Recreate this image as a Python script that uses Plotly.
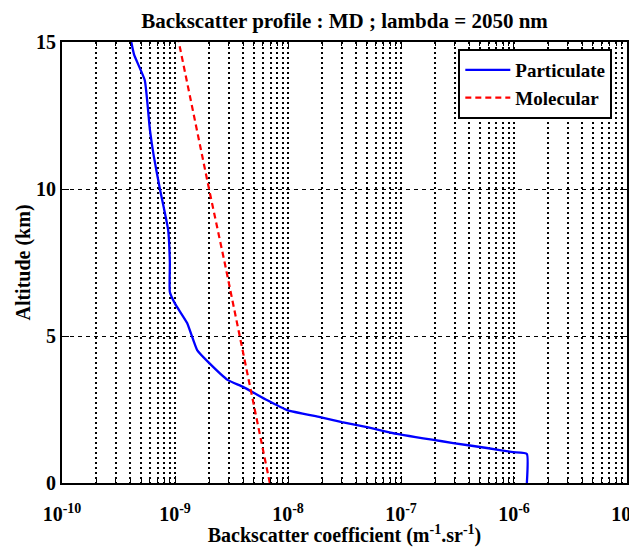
import plotly.graph_objects as go

# Particulate backscatter profile (altitude in km, coefficient in m^-1.sr^-1)
alt_part = [15.0, 14.56, 13.7, 12.0, 11.1, 10.0, 8.6, 7.5, 6.5, 6.1, 5.44, 4.52, 4.12,
            3.5, 3.27, 2.82, 2.48, 2.24, 2.07, 1.9, 1.67, 1.36, 1.19, 1.05, 0.99, 0.0]
beta_part = [4.1e-10, 4.35e-10, 5.4e-10, 6.0e-10, 6.5e-10, 7.35e-10, 8.7e-10, 9.0e-10,
             9.0e-10, 1.0e-9, 1.28e-9, 1.57e-9, 1.96e-9, 2.94e-9, 4.0e-9, 6.5e-9, 9.8e-9,
             1.92e-8, 3.0e-8, 5.0e-8, 9.2e-8, 2.9e-7, 5.75e-7, 9.8e-7, 1.3e-6, 1.3e-6]

# Molecular backscatter profile
alt_mol = [0.0, 2.5, 5.0, 7.5, 10.0, 12.5, 15.0]
beta_mol = [6.9e-9, 5.1e-9, 3.75e-9, 2.75e-9, 2.0e-9, 1.47e-9, 1.08e-9]

xtick_vals = [1e-10, 1e-9, 1e-8, 1e-7, 1e-6, 1e-5]
xtick_text = ["10<sup>-10</sup>", "10<sup>-9</sup>", "10<sup>-8</sup>",
              "10<sup>-7</sup>", "10<sup>-6</sup>", "10<sup>-5</sup>"]
ytick_vals = [0, 5, 10, 15]

fig = go.Figure()
fig.add_trace(go.Scatter(x=beta_part, y=alt_part, mode="lines", name="Particulate",
                         line=dict(color="#0000ff", width=2.3, shape="spline", smoothing=0.4)))
fig.add_trace(go.Scatter(x=beta_mol, y=alt_mol, mode="lines", name="Molecular",
                         line=dict(color="#ff0000", width=2.2, dash="6px,4px")))

# the page body has an 8px default margin: paper is sized to fit the 637x547 window
fig.update_layout(
    width=629, height=539,
    margin=dict(l=54, r=10, t=34, b=64, autoexpand=False),
    plot_bgcolor="white", paper_bgcolor="white",
    font=dict(family="Liberation Serif", color="black", size=18),
    title=dict(text="<b>Backscatter profile : MD ; lambda = 2050 nm</b>",
               x=0.5, xref="paper", xanchor="center",
               y=0.977, yref="container", yanchor="middle",
               font=dict(size=21)),
    legend=dict(x=0.974, xanchor="right", y=0.984, yanchor="top",
                bgcolor="white", bordercolor="black", borderwidth=2,
                font=dict(size=19, weight="bold"), tracegroupgap=0, itemwidth=45),
    showlegend=True,
)

fig.update_xaxes(
    type="log", range=[-10.0002, -4.9998], automargin=False,
    tickmode="array", tickvals=xtick_vals, ticktext=xtick_text,
    tickfont=dict(size=20, weight="bold"), ticklabeloverflow="allow",
    ticklabelstandoff=12,
    ticks="inside", ticklen=7, tickcolor="black", tickwidth=1,
    showline=True, linecolor="black", linewidth=2, mirror="allticks",
    showgrid=True, gridcolor="black", griddash="2px,3px", gridwidth=1.5,
    zeroline=False,
    minor=dict(dtick="D1", ticks="inside", ticklen=4, tickcolor="black",
               showgrid=True, gridcolor="black", griddash="2px,3px", gridwidth=1.5),
    title=dict(text="<b>Backscatter coefficient (m<sup>-1</sup>.sr<sup>-1</sup>)</b>",
               font=dict(size=20), standoff=14),
)

fig.update_yaxes(
    range=[0, 15], tickmode="array", tickvals=ytick_vals, automargin=False,
    tickfont=dict(size=20, weight="bold"),
    ticks="inside", ticklen=7, tickcolor="black",
    showline=True, linecolor="black", linewidth=2, mirror="allticks",
    showgrid=True, gridcolor="black", griddash="4px,4px", gridwidth=1,
    zeroline=False,
    title=dict(text="<b>Altitude (km)</b>", font=dict(size=20), standoff=0),
)

fig.write_html("out.html")
